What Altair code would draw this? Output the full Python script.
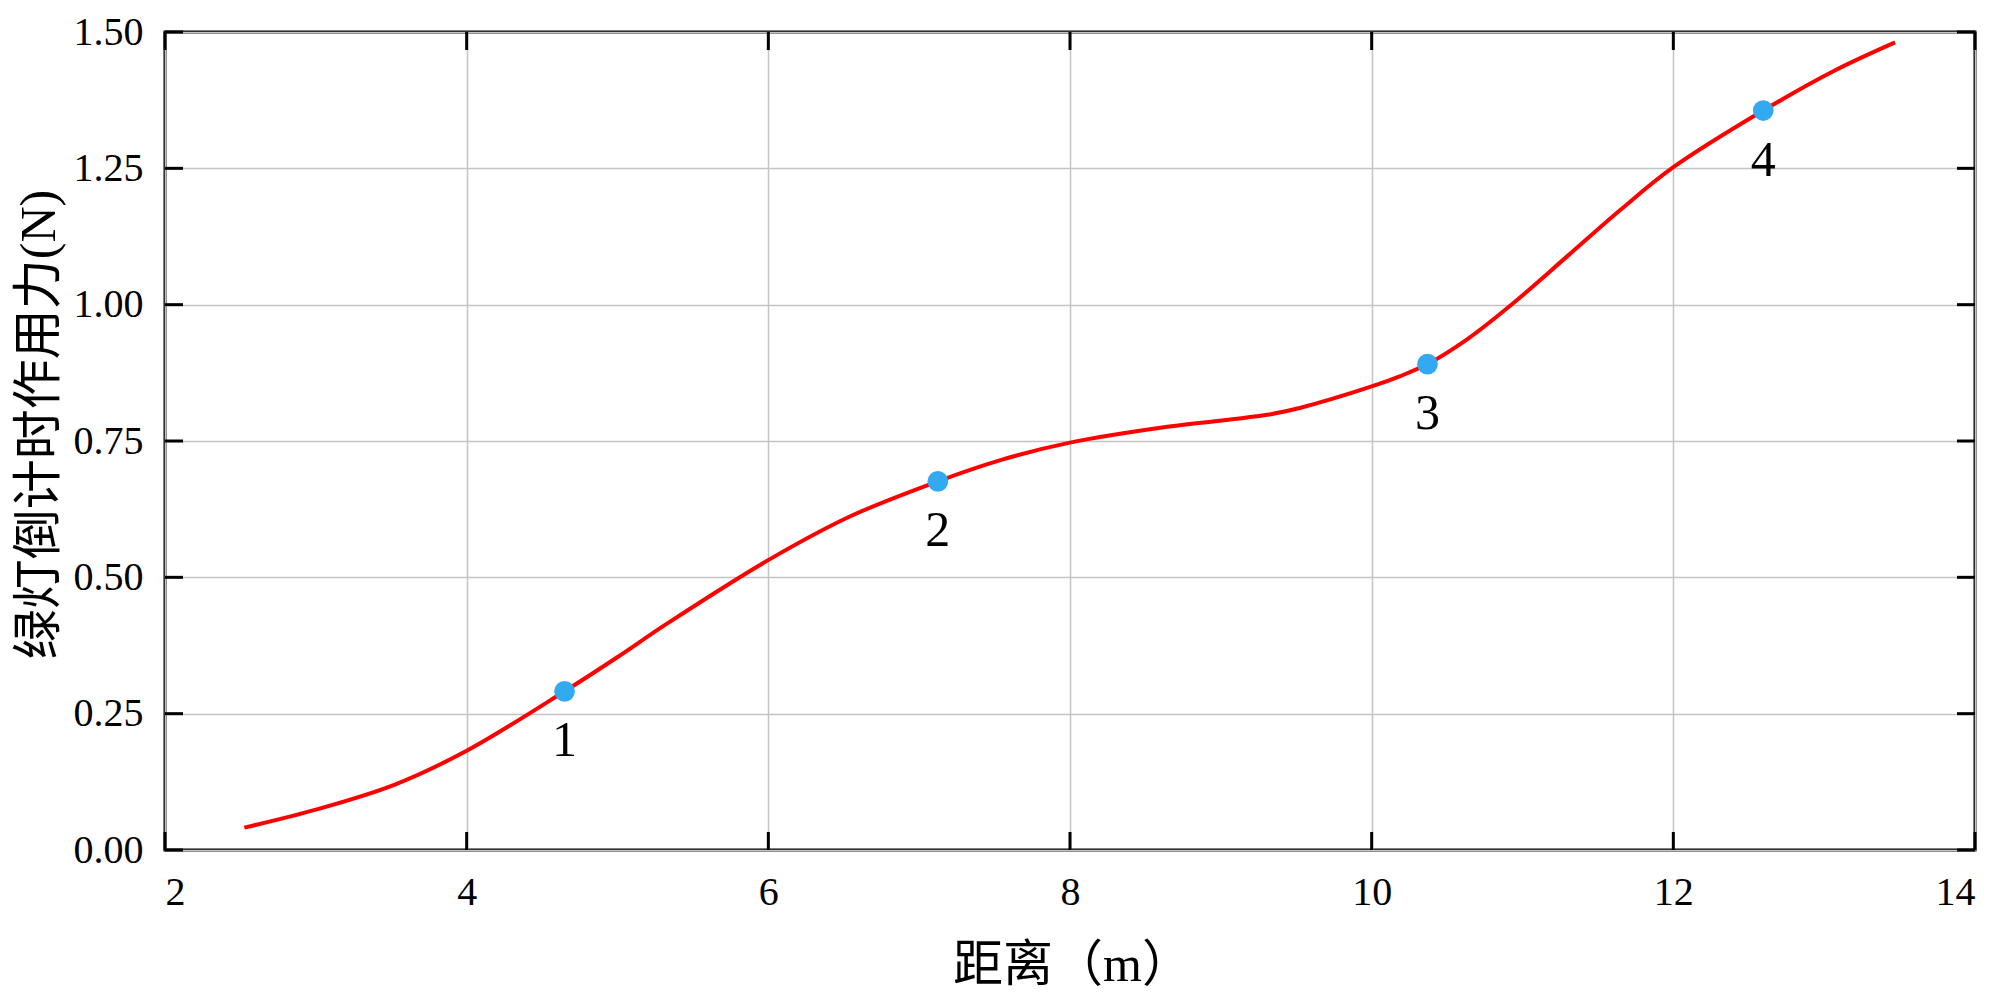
import altair as alt
import pandas as pd

# curve samples
curve_x = [2.526, 3.0, 3.515, 4.0, 4.649, 4.996, 5.328, 6.002, 6.544, 7.124, 7.539, 8.0,
           8.645, 9.308, 9.529, 10.0, 10.19, 10.370, 10.635, 10.922, 11.298, 11.650,
           12.0, 12.596, 13.067, 13.470]
curve_y = [0.041, 0.074, 0.119, 0.182, 0.291, 0.353, 0.415, 0.532, 0.612, 0.676, 0.715, 0.747,
           0.776, 0.798, 0.811, 0.850, 0.869, 0.891, 0.937, 0.999, 1.089, 1.174,
           1.252, 1.356, 1.429, 1.481]

# marked points
pt_x = [4.649, 7.124, 10.370, 12.596]
pt_y = [0.291, 0.676, 0.891, 1.356]
pt_label = ["1", "2", "3", "4"]

x_ticks = [2, 4, 6, 8, 10, 12, 14]
y_ticks = [0.0, 0.25, 0.5, 0.75, 1.0, 1.25, 1.5]

W, H = 1810, 818
TICK = 18
SERIF = "Liberation Serif, Noto Sans CJK SC"

curve = pd.DataFrame({"x": curve_x, "y": curve_y})
pts = pd.DataFrame({"x": pt_x, "y": pt_y, "label": pt_label})
xt = pd.DataFrame({"xv": x_ticks})
yt = pd.DataFrame({"yv": y_ticks})

xscale = alt.Scale(domain=[2, 14], nice=False, zero=False)
yscale = alt.Scale(domain=[0, 1.5], nice=False, zero=False)

line = alt.Chart(curve).mark_line(color="#ff0000", strokeWidth=4, interpolate="catmull-rom").encode(
    x=alt.X("x:Q", scale=xscale,
            axis=alt.Axis(values=x_ticks, format="d", labelPadding=22, title="距离（m）",
                          titleFontSize=50, titleX=907, titleY=115, titleBaseline="middle",
                          titleAlign="center")),
    y=alt.Y("y:Q", scale=yscale,
            axis=alt.Axis(values=y_ticks, format=".2f", labelPadding=22,
                          title="绿灯倒计时作用力(N)", titleFontSize=50, titleX=-126,
                          titleY=392, titleBaseline="middle", titleAlign="center")),
)

points = alt.Chart(pts).mark_circle(color="#33a9ef", opacity=1, size=430).encode(
    x="x:Q", y="y:Q"
)

labels = alt.Chart(pts).mark_text(font=SERIF, fontSize=50, dy=50, baseline="middle",
                                  align="center", color="black").encode(
    x="x:Q", y="y:Q", text="label:N"
)

xt_bottom = alt.Chart(xt).mark_rule(color="black", strokeWidth=3).encode(
    x="xv:Q", y=alt.value(H - TICK), y2=alt.value(H)
)
xt_top = alt.Chart(xt).mark_rule(color="black", strokeWidth=3).encode(
    x="xv:Q", y=alt.value(0), y2=alt.value(TICK)
)
yt_left = alt.Chart(yt).mark_rule(color="black", strokeWidth=3).encode(
    y="yv:Q", x=alt.value(0), x2=alt.value(TICK)
)
yt_right = alt.Chart(yt).mark_rule(color="black", strokeWidth=3).encode(
    y="yv:Q", x=alt.value(W - TICK), x2=alt.value(W)
)

chart = alt.layer(line, xt_bottom, xt_top, yt_left, yt_right, points, labels).properties(
    width=W, height=H,
    autosize=alt.AutoSizeParams(type="none"),
    padding={"left": 157, "top": 24, "right": 16, "bottom": 145},
).configure_view(
    stroke="black", strokeWidth=3
).configure_axis(
    labelFont=SERIF, labelFontSize=40, labelColor="black",
    titleFont=SERIF, titleColor="black", titleFontWeight="normal",
    ticks=False, tickSize=0, domain=False,
    grid=True, gridColor="#c4c4c4", gridWidth=1.5,
)

chart.save("out.html", embed_options={"renderer": "svg", "actions": False})
